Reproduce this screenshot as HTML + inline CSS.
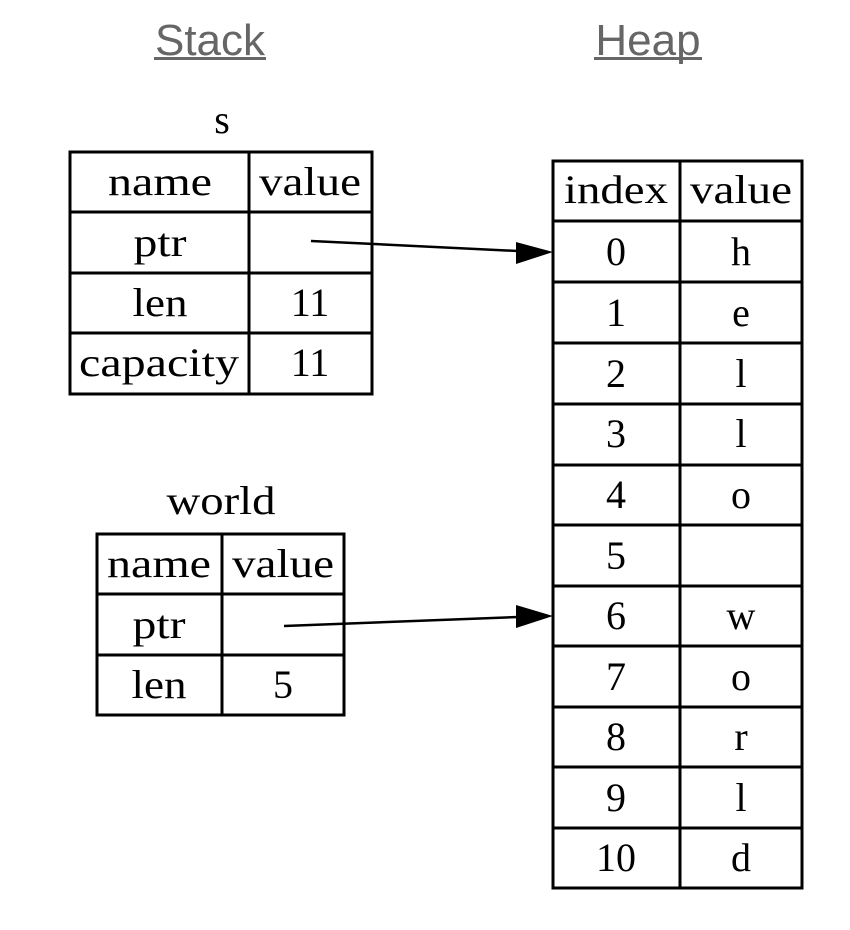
<!DOCTYPE html>
<html><head><meta charset="utf-8"><style>
html,body{margin:0;padding:0;background:#fff;}
svg{display:block}
.t{font-family:"Liberation Serif",serif;font-size:40px;fill:#000;text-anchor:middle}
.h{font-family:"Liberation Sans",sans-serif;font-size:44px;fill:#666;text-anchor:middle}
</style></head><body>
<svg width="850" height="930" viewBox="0 0 850 930" xmlns="http://www.w3.org/2000/svg">
<text class="h" x="210" y="55">Stack</text>
<rect x="154" y="57" width="112" height="3" fill="#666"/>
<text class="h" x="648" y="55">Heap</text>
<rect x="594" y="57" width="108" height="3" fill="#666"/>

<text class="t" x="222" y="133">s</text>
<g fill="none" stroke="#000" stroke-width="3">
<rect x="70" y="152" width="302" height="242"/>
<line x1="249" y1="152" x2="249" y2="394"/>
<line x1="70" y1="212" x2="372" y2="212"/>
<line x1="70" y1="273" x2="372" y2="273"/>
<line x1="70" y1="333" x2="372" y2="333"/>
</g>
<text class="t" x="160" y="195" textLength="104" lengthAdjust="spacingAndGlyphs">name</text>
<text class="t" x="310" y="195" textLength="102" lengthAdjust="spacingAndGlyphs">value</text>
<text class="t" x="160" y="256" textLength="53" lengthAdjust="spacingAndGlyphs">ptr</text>
<text class="t" x="160" y="316" textLength="55" lengthAdjust="spacingAndGlyphs">len</text>
<text class="t" x="310" y="316">11</text>
<text class="t" x="159" y="376" textLength="160" lengthAdjust="spacingAndGlyphs">capacity</text>
<text class="t" x="310" y="376">11</text>

<text class="t" x="221" y="514" textLength="109" lengthAdjust="spacingAndGlyphs">world</text>
<g fill="none" stroke="#000" stroke-width="3">
<rect x="97" y="534" width="247" height="181"/>
<line x1="222" y1="534" x2="222" y2="715"/>
<line x1="97" y1="594" x2="344" y2="594"/>
<line x1="97" y1="655" x2="344" y2="655"/>
</g>
<text class="t" x="159" y="577" textLength="104" lengthAdjust="spacingAndGlyphs">name</text>
<text class="t" x="283" y="577" textLength="102" lengthAdjust="spacingAndGlyphs">value</text>
<text class="t" x="159" y="638" textLength="53" lengthAdjust="spacingAndGlyphs">ptr</text>
<text class="t" x="159" y="698" textLength="55" lengthAdjust="spacingAndGlyphs">len</text>
<text class="t" x="283" y="698">5</text>

<g fill="none" stroke="#000" stroke-width="3">
<rect x="553" y="161" width="249" height="727"/>
<line x1="680" y1="161" x2="680" y2="888"/>
<line x1="553" y1="221" x2="802" y2="221"/>
<line x1="553" y1="282" x2="802" y2="282"/>
<line x1="553" y1="343" x2="802" y2="343"/>
<line x1="553" y1="404" x2="802" y2="404"/>
<line x1="553" y1="465" x2="802" y2="465"/>
<line x1="553" y1="525" x2="802" y2="525"/>
<line x1="553" y1="586" x2="802" y2="586"/>
<line x1="553" y1="646" x2="802" y2="646"/>
<line x1="553" y1="707" x2="802" y2="707"/>
<line x1="553" y1="767" x2="802" y2="767"/>
<line x1="553" y1="828" x2="802" y2="828"/>
</g>
<text class="t" x="616" y="203" textLength="104" lengthAdjust="spacingAndGlyphs">index</text>
<text class="t" x="741" y="203" textLength="102" lengthAdjust="spacingAndGlyphs">value</text>
<g>
<text class="t" x="616" y="265">0</text><text class="t" x="741" y="265">h</text>
<text class="t" x="616" y="326">1</text><text class="t" x="741" y="326">e</text>
<text class="t" x="616" y="387">2</text><text class="t" x="741" y="387">l</text>
<text class="t" x="616" y="447">3</text><text class="t" x="741" y="447">l</text>
<text class="t" x="616" y="508">4</text><text class="t" x="741" y="508">o</text>
<text class="t" x="616" y="569">5</text>
<text class="t" x="616" y="629">6</text><text class="t" x="741" y="629">w</text>
<text class="t" x="616" y="690">7</text><text class="t" x="741" y="690">o</text>
<text class="t" x="616" y="750">8</text><text class="t" x="741" y="750">r</text>
<text class="t" x="616" y="811">9</text><text class="t" x="741" y="811">l</text>
<text class="t" x="616" y="871">10</text><text class="t" x="741" y="871">d</text>
</g>

<line x1="311" y1="241" x2="518" y2="251" stroke="#000" stroke-width="2.5"/>
<polygon points="516,242 553,252 516,264" fill="#000"/>
<line x1="284" y1="626" x2="518" y2="617" stroke="#000" stroke-width="2.5"/>
<polygon points="516,605 553,616 516,628" fill="#000"/>
</svg>
</body></html>
